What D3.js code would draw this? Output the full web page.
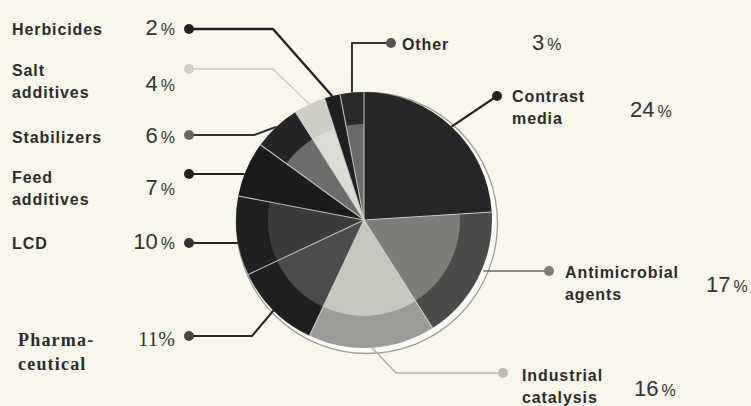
<!DOCTYPE html>
<html>
<head>
<meta charset="utf-8">
<script src="https://cdn.jsdelivr.net/npm/d3@7"></script>
<style>
  html, body { margin: 0; padding: 0; background: #f8f7ea; }
  svg { display: block; }
</style>
</head>
<body>
<svg id="chart" width="751" height="406"></svg>
<script>
// Uses of the element, share of total (%)
const categories = ["Contrast media", "Antimicrobial agents", "Industrial catalysis", "Pharmaceutical",
                    "LCD", "Feed additives", "Stabilizers", "Salt additives", "Herbicides", "Other"];
const values = [24, 17, 16, 11, 10, 7, 6, 4, 2, 3];
const valueLabels = ["24", "17", "16", "11", "10", "7", "6", "4", "2", "3"];
const labelLines = [["Contrast", "media"], ["Antimicrobial", "agents"], ["Industrial", "catalysis"],
                    ["Pharma-", "ceutical"], ["LCD"], ["Feed", "additives"], ["Stabilizers"],
                    ["Salt", "additives"], ["Herbicides"], ["Other"]];

// Styling: outer ring / inner disc fill per slice, leader colours
const outerFill = ["#262626", "#4b4b49", "#9b9b97", "#1f1f1f", "#202020", "#1b1b1b", "#242424", "#cdcdc6", "#1f1f1f", "#2a2a2a"];
const innerFill = ["#262626", "#7d7d7a", "#c6c6bf", "#4c4c4a", "#3b3b3b", "#1b1b1b", "#6c6c6a", "#dcdcd4", "#1f1f1f", "#6a6a68"];
const lineColor = ["#252525", "#6a6a6a", "#b0b0aa", "#252525", "#252525", "#222", "#333", "#c9c9c2", "#222", "#333"];
const dotColor  = ["#222", "#7a7a78", "#bcbcb6", "#444", "#333", "#222", "#666", "#cfcfc8", "#222", "#555"];
const lineWidth = [2.2, 1.6, 1.6, 2, 2, 2, 2, 1.4, 2.4, 2];

// Label placement: dot position, optional elbow points, and text anchors
const layout = {
  "Contrast media":       { dot: [497, 96],  elbows: [],                  name: [512, 102], pct: [630, 117], side: "right" },
  "Antimicrobial agents": { dot: [549, 271], horizontal: true,            name: [565, 278], pct: [706, 292], side: "right" },
  "Industrial catalysis": { dot: [503, 373], elbows: [[396, 373]],        name: [522, 381], pct: [634, 396], side: "right" },
  "Pharmaceutical":       { dot: [189, 336], elbows: [[252, 336]],        name: [18, 346],  pct: [175, 346], side: "left", serif: true },
  "LCD":                  { dot: [189, 243], horizontal: true,            name: [12, 249],  pct: [175, 249], side: "left" },
  "Feed additives":       { dot: [189, 174], horizontal: true,            name: [12, 183],  pct: [175, 195], side: "left" },
  "Stabilizers":          { dot: [189, 135], elbows: [[254, 135]],        name: [12, 143],  pct: [175, 143], side: "left" },
  "Salt additives":       { dot: [189, 69],  elbows: [[273, 69]],         name: [12, 76],   pct: [175, 91],  side: "left" },
  "Herbicides":           { dot: [189, 29],  elbows: [[273, 29]],         name: [12, 35],   pct: [175, 35],  side: "left" },
  "Other":                { dot: [391, 43],  elbows: [[352, 43]],         name: [402, 50],  pct: [532, 50],  side: "right" }
};

const svg = d3.select("#chart");
const cx = 364, cy = 220, rOuter = 128, rInner = 96;

const data = categories.map((c, i) => ({ name: c, value: values[i], i }));
const pie = d3.pie().value(d => d.value).sort(null);
const arcs = pie(data);

const g = svg.append("g").attr("transform", `translate(${cx},${cy})`);

// Raised rim behind the disc
const defs = svg.append("defs");
defs.append("filter").attr("id", "soft").append("feGaussianBlur").attr("stdDeviation", 0.7);
g.append("circle")
  .attr("cx", 3).attr("cy", 3).attr("r", rOuter + 2.5)
  .attr("fill", "#fdfdf8").attr("stroke", "#9c9c94").attr("stroke-width", 1.3)
  .attr("filter", "url(#soft)");

const outerArc = d3.arc().innerRadius(0).outerRadius(rOuter);
const innerArc = d3.arc().innerRadius(0).outerRadius(rInner);

g.selectAll("path.outer").data(arcs).join("path")
  .attr("class", "outer")
  .attr("d", outerArc)
  .attr("fill", d => outerFill[d.data.i]);

g.selectAll("path.inner").data(arcs).join("path")
  .attr("class", "inner")
  .attr("d", innerArc)
  .attr("fill", d => innerFill[d.data.i]);

// Slice separators
g.selectAll("line.sep").data(arcs).join("line")
  .attr("class", "sep")
  .attr("x1", 0).attr("y1", 0)
  .attr("x2", d => rOuter * Math.sin(d.startAngle))
  .attr("y2", d => -rOuter * Math.cos(d.startAngle))
  .attr("stroke", "#d8d8d0").attr("stroke-width", 1.1).attr("opacity", 0.85);

// Leader lines and dots
arcs.forEach(a => {
  const i = a.data.i, L = layout[a.data.name];
  let start;
  if (L.horizontal) {
    const dy = L.dot[1] - cy;
    const dx = Math.sqrt(rOuter * rOuter - dy * dy);
    start = [L.side === "left" ? cx - dx : cx + dx + 2, L.dot[1]];
  } else {
    const mid = (a.startAngle + a.endAngle) / 2;
    start = [cx + rOuter * Math.sin(mid), cy - rOuter * Math.cos(mid)];
  }
  const pts = [start, ...(L.elbows || []), L.dot];
  svg.append("path")
    .attr("d", d3.line()(pts))
    .attr("fill", "none")
    .attr("stroke", lineColor[i])
    .attr("stroke-width", lineWidth[i])
    .attr("stroke-linejoin", "round");
  svg.append("circle")
    .attr("cx", L.dot[0]).attr("cy", L.dot[1]).attr("r", 5)
    .attr("fill", dotColor[i]);
});

// Category names
const sans = "'Liberation Sans', Arial, sans-serif";
const serif = "'Liberation Serif', 'Times New Roman', serif";
arcs.forEach(a => {
  const i = a.data.i, L = layout[a.data.name];
  const t = svg.append("text")
    .attr("x", L.name[0]).attr("y", L.name[1])
    .attr("fill", "#2b2b2b")
    .attr("font-family", L.serif ? serif : sans)
    .attr("font-weight", "bold")
    .attr("font-size", L.serif ? 18 : 16)
    .attr("letter-spacing", L.serif ? 1.2 : 0.9);
  labelLines[i].forEach((s, k) => {
    t.append("tspan").attr("x", L.name[0]).attr("dy", k === 0 ? 0 : (L.serif ? 24 : 22)).text(s);
  });

  // Percentages
  const p = svg.append("text")
    .attr("x", L.pct[0]).attr("y", L.pct[1])
    .attr("fill", "#333")
    .attr("text-anchor", L.side === "left" ? "end" : "start")
    .attr("font-family", L.serif ? serif : sans);
  p.append("tspan").attr("font-size", L.serif ? 21 : 22).text(valueLabels[i]);
  p.append("tspan").attr("font-size", L.serif ? 20 : 16).attr("dx", L.serif ? 0 : 3).text("%");
});
</script>
</body>
</html>
